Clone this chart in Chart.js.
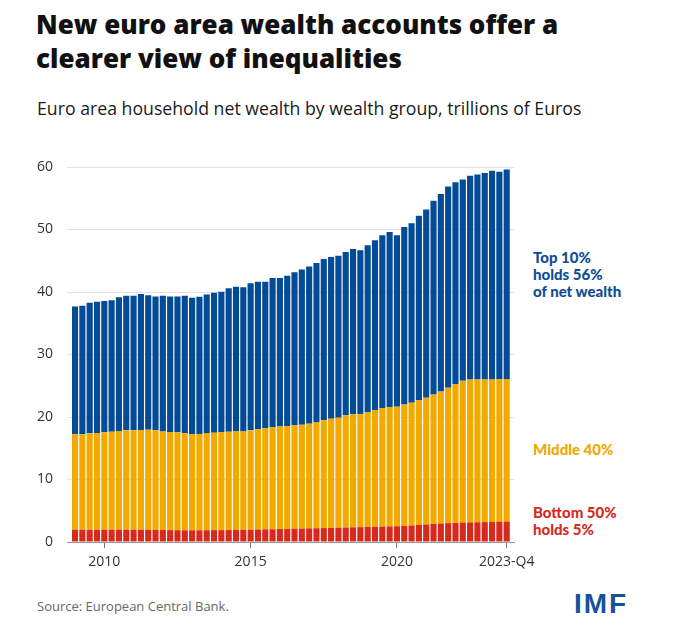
<!DOCTYPE html>
<html>
<head>
<meta charset="utf-8">
<script src="https://cdn.jsdelivr.net/npm/chart.js@4"></script>
<style>
  html, body { margin: 0; padding: 0; background: #fff; }
  body { width: 680px; height: 635px; position: relative; overflow: hidden; }
  .title { position: absolute; left: 36px; top: 7px; font-family: "Open Sans", sans-serif; font-weight: 800;
           font-size: 26px; line-height: 34px; color: #111; white-space: nowrap; }
  .subtitle { position: absolute; left: 37px; top: 96px; font-family: "Open Sans", sans-serif; font-size: 17.7px;
              color: #1a1a1a; white-space: nowrap; }
  .note { position: absolute; left: 533px; font-family: Lato, sans-serif; font-weight: 900; font-size: 15px;
          line-height: 17px; white-space: nowrap; }
  .source { position: absolute; left: 37px; top: 597px; font-family: "Open Sans", sans-serif; font-size: 13px;
            color: #666; white-space: nowrap; }
  .logo { position: absolute; left: 574px; top: 588px; font-family: "Liberation Sans", Arial, sans-serif;
          font-weight: bold; font-size: 28px; color: #17509d; letter-spacing: 2px; }
  #wrap { position: absolute; left: 0; top: 140px; width: 680px; height: 460px; }
</style>
</head>
<body>
<div class="title">New euro area wealth accounts offer a<br>clearer view of inequalities</div>
<div class="subtitle">Euro area household net wealth by wealth group, trillions of Euros</div>

<div class="note" style="top:249px;color:#0e4d95">Top 10%<br>holds 56%<br>of net wealth</div>
<div class="note" style="top:441px;color:#f0a800">Middle 40%</div>
<div class="note" style="top:504px;color:#d52b1e">Bottom 50%<br>holds 5%</div>

<div class="source">Source: European Central Bank.</div>
<div class="logo">IMF</div>

<div id="wrap"><canvas id="c"></canvas></div>

<script>
/* ─── DATA (2009-Q1 .. 2023-Q4, trillions of euros) ───────── */
const quarters = [];
for (let y = 2009; y <= 2023; y++) for (let q = 1; q <= 4; q++) quarters.push(y + '-Q' + q);

const bottom50 = [
  1.97, 1.97, 1.97, 1.97, 1.98, 1.98, 1.98, 1.98, 1.97, 1.96, 1.95, 1.94,
  1.92, 1.90, 1.89, 1.88, 1.88, 1.88, 1.89, 1.90, 1.90, 1.91, 1.93, 1.95,
  1.97, 2.00, 2.03, 2.05, 2.08, 2.10, 2.13, 2.15, 2.18, 2.20, 2.23, 2.26,
  2.29, 2.32, 2.35, 2.38, 2.41, 2.44, 2.47, 2.50, 2.52, 2.58, 2.64, 2.72,
  2.80, 2.88, 2.96, 3.02, 3.07, 3.10, 3.13, 3.16, 3.18, 3.20, 3.22, 3.25,
];
const middle40 = [
  15.26, 15.26, 15.43, 15.47, 15.57, 15.68, 15.78, 15.89, 15.90, 15.96, 16.03, 15.93,
  15.78, 15.70, 15.66, 15.52, 15.35, 15.42, 15.55, 15.60, 15.70, 15.75, 15.77, 15.75,
  15.90, 16.03, 16.17, 16.35, 16.42, 16.45, 16.54, 16.60, 16.76, 17.00, 17.24, 17.47,
  17.61, 17.95, 18.08, 18.12, 18.39, 18.66, 18.97, 19.10, 19.14, 19.42, 19.66, 19.98,
  20.30, 20.72, 21.14, 21.68, 22.23, 22.70, 22.87, 22.84, 22.82, 22.80, 22.83, 22.85,
];
const top10 = [
  20.47, 20.57, 20.90, 21.01, 21.00, 21.04, 21.39, 21.53, 21.53, 21.78, 21.52, 21.43,
  21.70, 21.70, 21.75, 22.00, 21.87, 21.95, 22.16, 22.40, 22.45, 22.94, 23.15, 23.05,
  23.53, 23.62, 23.45, 23.85, 23.75, 24.05, 24.48, 24.85, 25.16, 25.45, 25.83, 25.87,
  25.90, 26.13, 26.47, 26.20, 26.70, 27.20, 27.66, 28.00, 27.44, 28.40, 28.70, 29.50,
  30.10, 31.00, 31.60, 32.20, 32.25, 32.20, 32.60, 32.80, 33.05, 33.40, 33.20, 33.50,
];

// tick positions on the quarter index axis and their labels
const xTickIdx    = [4, 24, 44, 59];
const xTickLabels = ['2010', '2015', '2020', '2023-Q4'];
const yTicks      = [0, 10, 20, 30, 40, 50, 60];

/* ─── CHART ───────────────────────────────────────────────── */
const toPoints = arr => arr.map((v, i) => ({ x: i, y: v }));

function series(label, arr, color) {
  return {
    label,
    data: toPoints(arr),
    backgroundColor: color,
    borderWidth: 0,
    barPercentage: 0.84,
    categoryPercentage: 1,
  };
}

const tickFont = { family: 'Open Sans', size: 14 };

new Chart(document.getElementById('c'), {
  type: 'bar',
  data: {
    datasets: [
      series('Bottom 50%', bottom50, '#d8291d'),
      series('Middle 40%', middle40, '#f2aa00'),
      series('Top 10%',    top10,    '#034b97'),
    ],
  },
  options: {
    responsive: true,
    maintainAspectRatio: false,
    animation: false,
    layout: { padding: { top: 27, right: 166, left: 0, bottom: 0 } },
    plugins: { legend: { display: false }, tooltip: { enabled: false } },
    scales: {
      x: {
        type: 'linear',
        stacked: true,
        offset: false,
        min: -1.1,
        max: 60,
        afterBuildTicks: s => { s.ticks = xTickIdx.map(v => ({ value: v })); },
        afterFit: s => { s.height = 58; },
        ticks: {
          color: '#333',
          font: tickFont,
          padding: 6,
          maxRotation: 0,
          autoSkip: false,
          callback: v => xTickLabels[xTickIdx.indexOf(v)],
        },
        grid: { offset: false, drawOnChartArea: false, drawTicks: true, tickLength: 6, color: '#777' },
        border: { display: true, color: '#999', width: 1 },
      },
      y: {
        stacked: true,
        min: 0,
        max: 60,
        afterBuildTicks: s => { s.ticks = yTicks.map(v => ({ value: v })); },
        afterFit: s => { s.width = 67; },
        ticks: { color: '#333', font: tickFont, padding: 14 },
        grid: { color: '#e2e2e2', drawTicks: false },
        border: { display: false },
      },
    },
  },
});
</script>
</body>
</html>
